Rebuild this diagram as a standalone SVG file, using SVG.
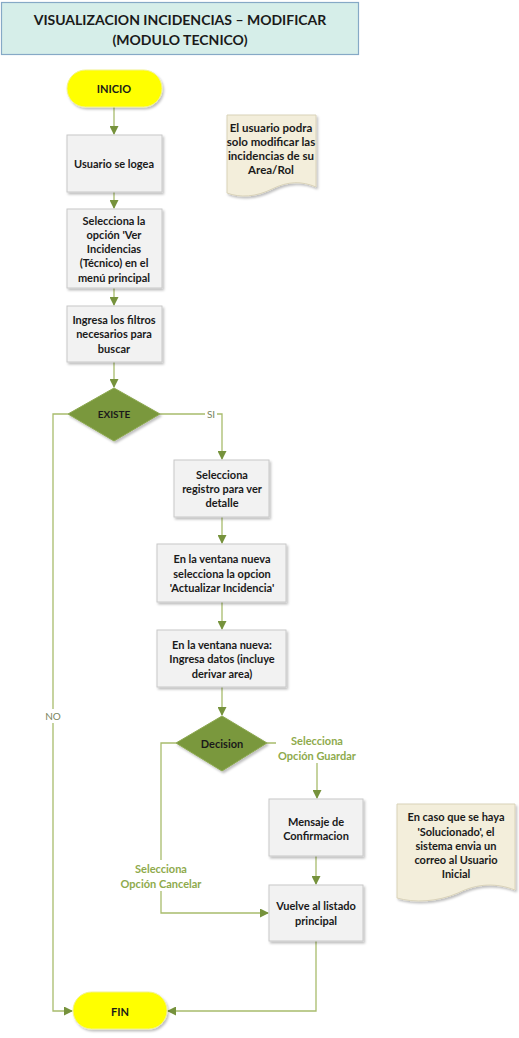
<svg xmlns="http://www.w3.org/2000/svg" width="519" height="1038" viewBox="0 0 519 1038">
<style>
text{font-family:Lato,"Open Sans","Liberation Sans",sans-serif;font-weight:bold;text-anchor:middle;dominant-baseline:central}
.t{font-size:11px;fill:#1a1a1a}
.n{font-size:11.5px;fill:#1a1a1a}
.title{font-size:14px;fill:#1a1a1a}
.box{fill:#F2F2F2;stroke:#C8C8C8;stroke-width:1}
.term{fill:#FFFF00;stroke:#F2F28C;stroke-width:1}
.dia{fill:#7A983C;stroke:#8CA850;stroke-width:1}
.note{fill:#F3EEDB;stroke:#D9D2B8;stroke-width:1}
.con{fill:none;stroke:#A8BC6C;stroke-width:1.3}
.lbl{font-size:11px;fill:#8EAA4C}
.lblg{font-size:10px;fill:#7A8560;font-weight:normal}
</style>
<defs>
<filter id="sh" x="-20%" y="-20%" width="140%" height="150%">
<feDropShadow dx="1.5" dy="2" stdDeviation="1.2" flood-color="#000" flood-opacity="0.25"/>
</filter>
<marker id="ar" markerWidth="9" markerHeight="9" refX="8" refY="4.5" orient="auto" markerUnits="userSpaceOnUse">
<path d="M0,0 L9,4.5 L0,9 Z" fill="#76923C"/>
</marker>
</defs>

<g id="title">
<rect x="1.5" y="2.5" width="357" height="52" fill="#D6EEE9" stroke="#86A9C6" stroke-width="1.2"/>
<text class="title" x="180" y="19">VISUALIZACION INCIDENCIAS – MODIFICAR</text>
<text class="title" x="180" y="39">(MODULO TECNICO)</text>
</g>

<g id="connectors">
<path class="con" d="M114,107 V134" marker-end="url(#ar)"/>
<path class="con" d="M114,192 V208" marker-end="url(#ar)"/>
<path class="con" d="M114,288 V305" marker-end="url(#ar)"/>
<path class="con" d="M114,362 V387" marker-end="url(#ar)"/>
<path class="con" d="M160,414 H222 V459" marker-end="url(#ar)"/>
<path class="con" d="M68,414 H53 V1011 H72" marker-end="url(#ar)"/>
<path class="con" d="M222,517 V543" marker-end="url(#ar)"/>
<path class="con" d="M222,602 V629" marker-end="url(#ar)"/>
<path class="con" d="M222,687 V715" marker-end="url(#ar)"/>
<path class="con" d="M267,743 H317 V798" marker-end="url(#ar)"/>
<path class="con" d="M176,743 H161 V913 H268" marker-end="url(#ar)"/>
<path class="con" d="M316,856 V884" marker-end="url(#ar)"/>
<path class="con" d="M316,941 V1011 H168" marker-end="url(#ar)"/>
<rect x="205" y="407" width="12" height="14" fill="#fff"/>
<text class="lblg" x="211" y="414">SI</text>
<rect x="45" y="709" width="16" height="14" fill="#fff"/>
<text class="lblg" x="53" y="716">NO</text>
<rect x="276" y="732" width="83" height="31" fill="#fff"/>
<text class="lbl" x="317" y="740">Selecciona</text>
<text class="lbl" x="317" y="755">Opción Guardar</text>
<rect x="118" y="860" width="86" height="31" fill="#fff"/>
<text class="lbl" x="161" y="868">Selecciona</text>
<text class="lbl" x="161" y="883">Opción Cancelar</text>
</g>

<g id="inicio">
<rect class="term" x="67" y="70" width="95" height="37" rx="18.5" filter="url(#sh)"/>
<text class="t" x="114" y="88">INICIO</text>
</g>

<g id="usuario-logea">
<rect class="box" x="67" y="135" width="95" height="57" filter="url(#sh)"/>
<text class="t" x="114" y="163">Usuario se logea</text>
</g>

<g id="selecciona-opcion">
<rect class="box" x="67" y="209" width="95" height="79" filter="url(#sh)"/>
<text class="t" x="114" y="220">Selecciona la</text>
<text class="t" x="114" y="234">opción 'Ver</text>
<text class="t" x="114" y="248">Incidencias</text>
<text class="t" x="114" y="262">(Técnico) en el</text>
<text class="t" x="114" y="277">menú principal</text>
</g>

<g id="ingresa-filtros">
<rect class="box" x="67" y="306" width="95" height="56" filter="url(#sh)"/>
<text class="t" x="114" y="319">Ingresa los filtros</text>
<text class="t" x="114" y="333">necesarios para</text>
<text class="t" x="114" y="348">buscar</text>
</g>

<g id="existe">
<path class="dia" d="M114,388 L160,414 L114,441 L68,414 Z" filter="url(#sh)"/>
<text class="t" x="114" y="414" style="font-size:10px">EXISTE</text>
</g>

<g id="selecciona-registro">
<rect class="box" x="174" y="460" width="95" height="57" filter="url(#sh)"/>
<text class="t" x="222" y="474">Selecciona</text>
<text class="t" x="222" y="488">registro para ver</text>
<text class="t" x="222" y="502">detalle</text>
</g>

<g id="ventana-actualizar">
<rect class="box" x="157" y="544" width="129" height="58" filter="url(#sh)"/>
<text class="t" x="222" y="558">En la ventana nueva</text>
<text class="t" x="222" y="573">selecciona la opcion</text>
<text class="t" x="222" y="587">'Actualizar Incidencia'</text>
</g>

<g id="ventana-ingresa">
<rect class="box" x="157" y="630" width="129" height="57" filter="url(#sh)"/>
<text class="t" x="222" y="644">En la ventana nueva:</text>
<text class="t" x="222" y="658">Ingresa datos (incluye</text>
<text class="t" x="222" y="673">derivar area)</text>
</g>

<g id="decision">
<path class="dia" d="M222,716 L267,743 L222,771 L176,743 Z" filter="url(#sh)"/>
<text class="t" x="222" y="743">Decision</text>
</g>

<g id="mensaje">
<rect class="box" x="269" y="799" width="94" height="57" filter="url(#sh)"/>
<text class="t" x="316" y="821">Mensaje de</text>
<text class="t" x="316" y="835">Confirmacion</text>
</g>

<g id="vuelve">
<rect class="box" x="269" y="885" width="94" height="56" filter="url(#sh)"/>
<text class="t" x="316" y="905">Vuelve al listado</text>
<text class="t" x="316" y="920">principal</text>
</g>

<g id="fin">
<rect class="term" x="73" y="992" width="94" height="37" rx="18.5" filter="url(#sh)"/>
<text class="t" x="120" y="1011">FIN</text>
</g>

<g id="nota-area">
<path class="note" d="M227,115 H316 V187 C302,181 288,181 272,189 C256,197 240,198 227,193 Z" filter="url(#sh)"/>
<text class="n" x="271" y="127">El usuario podra</text>
<text class="n" x="271" y="141">solo modificar las</text>
<text class="n" x="271" y="155">incidencias de su</text>
<text class="n" x="271" y="169">Area/Rol</text>
</g>

<g id="nota-correo">
<path class="note" d="M397,804 H515 V890 C497,883 478,883 458,893 C437,902 414,903 397,898 Z" filter="url(#sh)"/>
<text class="t" x="456" y="816">En caso que se haya</text>
<text class="t" x="456" y="831">'Solucionado', el</text>
<text class="t" x="456" y="845">sistema envia un</text>
<text class="t" x="456" y="859">correo al Usuario</text>
<text class="t" x="456" y="873">Inicial</text>
</g>
</svg>
